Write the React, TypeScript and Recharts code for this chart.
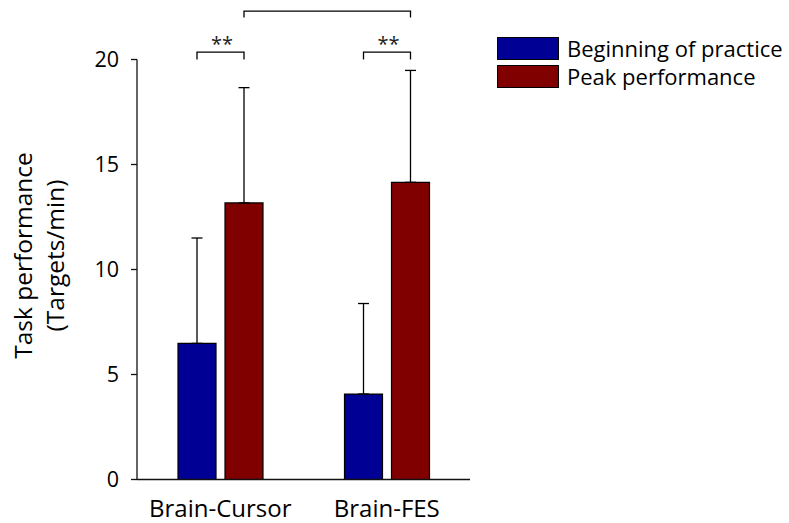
import React from 'react';
import { BarChart, Bar, XAxis, YAxis, ErrorBar, Legend, LabelList } from 'recharts';

const categories = ['Brain-Cursor', 'Brain-FES'];
const beginningMean = [6.48, 4.07];
const beginningSD = [5.02, 4.31];
const peakMean = [13.17, 14.15];
const peakSD = [5.49, 5.33];
const withinMarks = ['**', '**'];
const yTicks = [0, 5, 10, 15, 20];
const seriesNames = ['Beginning of practice', 'Peak performance'];
const yTitle = ['Task performance', '(Targets/min)'];
const withinBracket = [20, 20.35];
const acrossBracket = [22, 22.3];

const BLUE = '#000094';
const RED = '#800000';
const FONT = '"Open Sans", sans-serif';
const BAR_SIZE = 38;
const BAR_GAP = 9;

const data = categories.map((c, i) => ({
  name: c,
  begin: beginningMean[i],
  beginErr: [0, beginningSD[i]],
  peak: peakMean[i],
  peakErr: [0, peakSD[i]],
  mark: withinMarks[i],
}));

let firstPeakCenter: number | null = null;

const BracketLabel = (props: any) => {
  const vb = props.viewBox && props.viewBox.width !== undefined ? props.viewBox : props;
  const x = Number(vb.x);
  const y = Number(vb.y);
  const w = Number(vb.width);
  const h = Number(vb.height);
  const i = Number(props.index);
  const k = h / peakMean[i];
  const base = y + h;
  const py = (v: number) => base - v * k;
  const cx = x + w / 2;
  const bx = cx - BAR_GAP - BAR_SIZE;
  if (i === 0) firstPeakCenter = cx;
  const parts: any[] = [];
  parts.push(
    <path
      key="b"
      d={`M${bx},${py(withinBracket[0])}V${py(withinBracket[1])}H${cx}V${py(withinBracket[0])}`}
      fill="none"
      stroke="#000"
      strokeWidth={1.3}
    />
  );
  parts.push(
    <text
      key="t"
      x={(bx + cx) / 2 + 1.5}
      y={py(withinBracket[1]) - 1}
      textAnchor="middle"
      fontSize={20}
      fontFamily={FONT}
      fill="#222"
    >
      {withinMarks[i]}
    </text>
  );
  if (i === categories.length - 1 && firstPeakCenter !== null) {
    parts.push(
      <path
        key="a"
        d={`M${firstPeakCenter},${py(acrossBracket[0])}V${py(acrossBracket[1])}H${cx}V${py(acrossBracket[0])}`}
        fill="none"
        stroke="#000"
        strokeWidth={1.3}
      />
    );
  }
  return <g>{parts}</g>;
};

const YTitle = (props: any) => {
  const vb = props.viewBox || { x: 0, y: 59.5, width: 137, height: 420 };
  const cy = vb.y + vb.height / 2 - 14;
  const xs = [32, 63.5];
  return (
    <g>
      {yTitle.map((t, i) => (
        <text
          key={i}
          x={xs[i]}
          y={cy}
          transform={`rotate(-90, ${xs[i]}, ${cy})`}
          textAnchor="middle"
          fontSize={24.5}
          fontFamily={FONT}
          fill="#000"
        >
          {t}
        </text>
      ))}
    </g>
  );
};

const XTick = (props: any) => {
  const { x, y, payload } = props;
  return (
    <text x={x} y={y + 37.5} textAnchor="middle" fontSize={24} fontFamily={FONT} fill="#000">
      {payload.value}
    </text>
  );
};

const LegendContent = (props: any) => {
  const payload = props.payload || [];
  return (
    <div style={{ fontFamily: FONT }}>
      {payload.map((p: any, i: number) => (
        <div key={i} style={{ display: 'flex', alignItems: 'center', height: 23, marginBottom: 5 }}>
          <div
            style={{
              width: 60,
              height: 21,
              background: p.color,
              border: '1px solid #000',
              marginRight: 8,
            }}
          />
          <span style={{ fontSize: 22, color: '#000', lineHeight: '23px', whiteSpace: 'nowrap' }}>{p.value}</span>
        </div>
      ))}
    </div>
  );
};

export default function App() {
  firstPeakCenter = null;
  return (
    <div style={{ position: 'absolute', left: 0, top: 0, width: 789, height: 523, background: '#fff' }}>
      <BarChart
        width={789}
        height={523}
        data={data}
        margin={{ top: 59.5, right: 319, bottom: 0, left: 0 }}
        barSize={BAR_SIZE}
        barGap={BAR_GAP}
        style={{ fontFamily: FONT }}
      >
        <XAxis
          dataKey="name"
          height={43.5}
          tickLine={false}
          tickSize={0}
          tickMargin={0}
          axisLine={{ stroke: '#111', strokeWidth: 1.3 }}
          tick={<XTick />}
          interval={0}
        />
        <YAxis
          width={137}
          domain={[0, 20]}
          ticks={yTicks}
          allowDataOverflow
          tickSize={6}
          tickMargin={12}
          axisLine={{ stroke: '#111', strokeWidth: 1.3 }}
          tickLine={{ stroke: '#111', strokeWidth: 1.3 }}
          tick={{ fontSize: 21.5, fill: '#000', fontFamily: FONT }}
          label={{ content: (p: any) => <YTitle {...p} /> }}
        />
        <Legend
          layout="vertical"
          align="center"
          verticalAlign="middle"
          content={<LegendContent />}
          wrapperStyle={{ position: 'absolute', left: 497, top: 37, width: 290, height: 60 }}
        />
        <Bar dataKey="begin" name={seriesNames[0]} fill={BLUE} stroke="#000" strokeWidth={1.2} isAnimationActive={false}>
          <ErrorBar dataKey="beginErr" width={5.5} stroke="#000" strokeWidth={1.3} direction="y" isAnimationActive={false} />
        </Bar>
        <Bar dataKey="peak" name={seriesNames[1]} fill={RED} stroke="#000" strokeWidth={1.2} isAnimationActive={false}>
          <ErrorBar dataKey="peakErr" width={5.5} stroke="#000" strokeWidth={1.3} direction="y" isAnimationActive={false} />
          <LabelList dataKey="mark" content={<BracketLabel />} />
        </Bar>
      </BarChart>
    </div>
  );
}
